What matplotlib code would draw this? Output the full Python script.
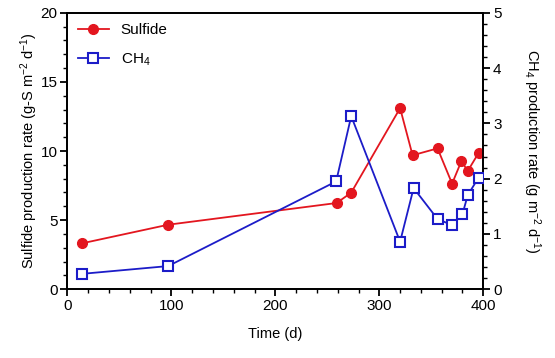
import matplotlib
matplotlib.use("Agg")
import matplotlib.pyplot as plt
from matplotlib.ticker import MultipleLocator

plt.rcParams['font.family'] = ['Liberation Sans', 'DejaVu Sans']
plt.rcParams['mathtext.default'] = 'regular'

time_s = [14.5, 97, 259, 273, 320, 332, 356, 370, 379, 385, 395.5]
sulfide = [3.33, 4.67, 6.24, 6.99, 13.1, 9.69, 10.19, 7.64, 9.28, 8.55, 9.86]
time_c = [14.5, 97, 258.5, 273, 320, 333, 356, 370, 380, 385, 395.5]
ch4 = [0.28, 0.42, 1.95, 3.13, 0.86, 1.83, 1.27, 1.16, 1.36, 1.70, 2.02]

red = '#e3161f'
blue = '#1c1cc8'

fig = plt.figure(figsize=(5.55, 3.58), dpi=100)
ax = fig.add_axes([0.1213, 0.1919, 0.7495, 0.7726])
ax2 = ax.twinx()

l1, = ax.plot(time_s, sulfide, '-o', color=red, lw=1.3, ms=7, mfc=red, mec=red, label='Sulfide', zorder=3)
l2, = ax2.plot(time_c, ch4, '-s', color=blue, lw=1.3, ms=7.5, mfc='white', mec=blue, mew=1.5,
               label='CH$_4$', zorder=3)

ax.set_xlim(0, 400)
ax.set_ylim(0, 20)
ax2.set_ylim(0, 5)

ax.xaxis.set_major_locator(MultipleLocator(100))
ax.xaxis.set_minor_locator(MultipleLocator(20))
ax.yaxis.set_major_locator(MultipleLocator(5))
ax.yaxis.set_minor_locator(MultipleLocator(1))
ax2.yaxis.set_major_locator(MultipleLocator(1))
ax2.yaxis.set_minor_locator(MultipleLocator(0.2))

for a in (ax, ax2):
    for s in a.spines.values():
        s.set_linewidth(1.3)
    a.tick_params(which='major', direction='out', length=5, width=1.3, labelsize=11, pad=2)
    a.tick_params(which='minor', direction='out', length=3, width=1.0)

ax.set_xlabel('Time (d)', fontsize=10.5)
ax.xaxis.set_label_coords(0.5, -0.137)
ax.set_ylabel('Sulfide production rate (g-S m$^{-2}$ d$^{-1}$)', fontsize=10.5)
ax.yaxis.set_label_coords(-0.066, 0.5)
ax2.set_ylabel('CH$_4$ production rate (g m$^{-2}$ d$^{-1}$)', fontsize=10.5, rotation=270)
ax2.yaxis.set_label_coords(1.142, 0.5)

leg = ax.legend([l1, l2], ['Sulfide', 'CH$_4$'], loc='upper left', frameon=False,
                fontsize=11, handlelength=2.0, borderaxespad=0.3, labelspacing=0.9)

fig.savefig('out.png', dpi=100)
